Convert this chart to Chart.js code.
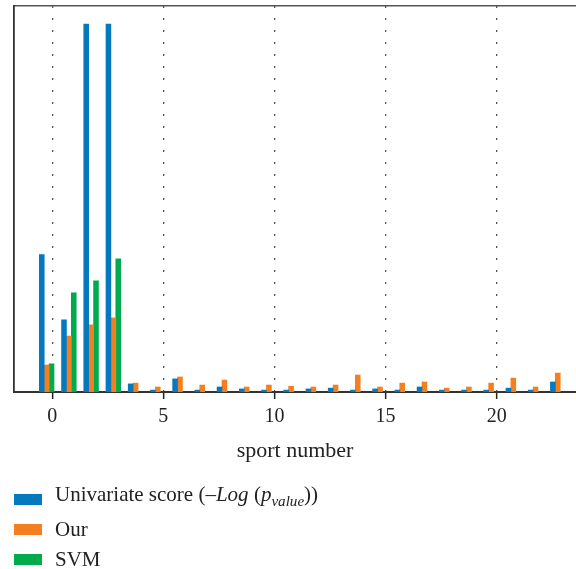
<!DOCTYPE html>
<html>
<head>
<meta charset="utf-8">
<script src="https://cdn.jsdelivr.net/npm/chart.js@4/dist/chart.umd.min.js"></script>
<style>
  html, body { margin: 0; padding: 0; background: #fff; }
  #wrap { position: relative; width: 576px; height: 569px; }
  #c { position: absolute; left: 0; top: 0; }
  #legend { position: absolute; left: 14px; top: 484px; font-family: "Liberation Serif", serif; font-size: 21px; color: #222; }
  .item { display: flex; align-items: center; height: 30px; }
  .box { width: 28px; height: 11px; margin-right: 13px; flex: none; }
  .item span { position: relative; }
  .item:first-child span { top: -5px; }
  sub { font-size: 0.72em; vertical-align: -0.3em; line-height: 0; }
</style>
</head>
<body>
<div id="wrap">
  <canvas id="c" width="576" height="569"></canvas>
  <div id="legend"></div>
</div>
<script>
// ---- data ----
const sportNumbers = [0,1,2,3,4,5,6,7,8,9,10,11,12,13,14,15,16,17,18,19,20,21,22,23];
const univariateScore = [35.6,18.7,95.3,95.3,2.1,0.5,3.4,0.5,1.3,0.8,0.5,0.5,0.8,1.0,0.5,0.8,0.5,1.3,0.5,0.5,0.5,1.0,0.5,2.6];
const ourScore = [7.0,14.5,17.4,19.2,2.3,1.3,3.9,1.8,3.1,1.3,1.8,1.5,1.3,1.8,4.4,1.3,2.3,2.6,1.0,1.3,2.3,3.6,1.3,4.9];
const svmSports = [0,1,2,3];
const svmScore = [7.3,25.7,28.8,34.5];
const xTickValues = [0,5,10,15,20];
const seriesNames = ['Univariate score', 'Our', 'SVM'];
const seriesColors = ['#0479bd', '#f47f20', '#00ab4e'];

// ---- chart ----
const groupShift = -0.25;
const toPoints = (xs, ys) => xs.map((x, i) => ({ x: x + groupShift, y: ys[i] }));
const FONT = "'Liberation Serif', serif";

new Chart(document.getElementById('c'), {
  type: 'bar',
  data: {
    datasets: [
      { label: seriesNames[0], data: toPoints(sportNumbers, univariateScore), backgroundColor: seriesColors[0] },
      { label: seriesNames[1], data: toPoints(sportNumbers, ourScore), backgroundColor: seriesColors[1] },
      { label: seriesNames[2], data: toPoints(svmSports, svmScore), backgroundColor: seriesColors[2] }
    ]
  },
  options: {
    responsive: false,
    animation: false,
    barThickness: 4.9,
    layout: { padding: { top: 6, left: 14, right: 0, bottom: 100.6 } },
    plugins: { legend: { display: false }, tooltip: { enabled: false } },
    scales: {
      x: {
        type: 'linear',
        offset: false,
        min: -1.72,
        max: 23.57,
        afterBuildTicks: (axis) => { axis.ticks = xTickValues.map(v => ({ value: v })); },
        ticks: { color: '#222', font: { family: FONT, size: 20 }, padding: 6, maxRotation: 0, autoSkip: false },
        grid: { offset: false, color: '#555', lineWidth: 1.3, drawTicks: true, tickLength: 7, tickColor: '#222', tickWidth: 1.5 },
        border: { display: true, color: '#333', width: 2, dash: [2, 10] },
        title: { display: true, text: 'sport number', color: '#222', font: { family: FONT, size: 22 }, padding: { top: 3, bottom: 4 } }
      },
      x2: {
        type: 'linear',
        position: 'top',
        offset: false,
        min: -1.72,
        max: 23.57,
        ticks: { display: false },
        grid: { display: false, drawTicks: false },
        border: { display: true, color: '#555', width: 1.5 }
      },
      y: {
        min: 0,
        max: 100,
        ticks: { display: false },
        grid: { display: false, drawTicks: false },
        border: { display: true, color: '#333', width: 1.8 }
      }
    }
  }
});

// ---- legend (real text) ----
const legendHtml = [
  'Univariate score (\u2013<i>Log</i> (<i>p</i><sub><i>value</i></sub>))',
  seriesNames[1],
  seriesNames[2]
];
document.getElementById('legend').innerHTML = legendHtml.map((t, i) =>
  '<div class="item"><div class="box" style="background:' + seriesColors[i] + '"></div><span>' + t + '</span></div>'
).join('');
</script>
</body>
</html>
